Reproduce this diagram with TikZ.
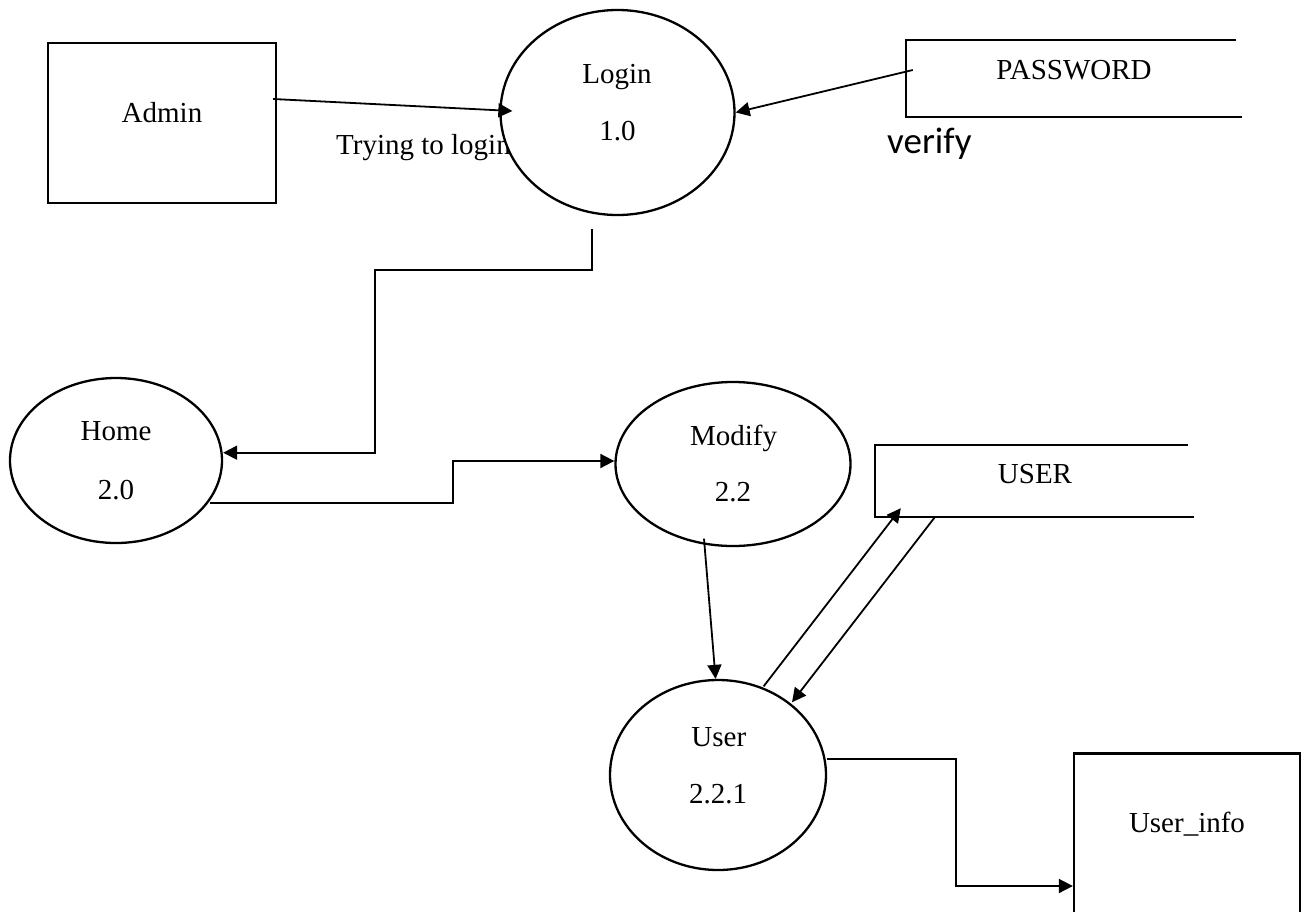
\documentclass[tikz,border=0pt]{standalone}
\usepackage{fontspec}
\setmainfont{Liberation Serif}
\newfontfamily\calibrifont{Carlito}
\usetikzlibrary{shapes.geometric,arrows.meta,calc}

\begin{document}
\begin{tikzpicture}[x=1pt,y=-1pt,
  every node/.style={font=\fontsize{29}{34}\selectfont},
  proc/.style={ellipse, draw, line width=2.3pt, fill=white, inner sep=0pt},
  entity/.style={rectangle, draw, line width=2.3pt, inner sep=0pt},
  storebox/.style={rectangle, inner sep=0pt},
  storeline/.style={line width=2.3pt},
  lbl/.style={anchor=base, inner sep=0pt},
  flow/.style={line width=1.8pt, -{Triangle[length=14pt,width=14pt]}},
  link/.style={line width=1.8pt}]
\clip (0,0) rectangle (1302,911);

% ---------- external entity: Admin ----------
\node[entity, minimum width=228pt, minimum height=160pt] (admin) at (162,123) {};
\node[lbl] (admintxt) at (162,122.7) {Admin};

% flow label, partly hidden behind the Login process
\node[anchor=base west, inner sep=0pt] (trying) at (336,154) {Trying to login};

% ---------- process 1.0 ----------
\node[proc, minimum width=234pt, minimum height=205pt] (login) at (617.5,112.5) {};
\node[lbl] (logintxt) at (617,83.3) {Login};
\node[lbl] (loginnum) at (617.5,140.7) {1.0};

% ---------- data store: PASSWORD ----------
\node[storebox, minimum width=335.5pt, minimum height=77pt] (pwd) at (1074.25,78.5) {};
\draw[storeline] ($(pwd.north east)+(-6,0)$) -- (pwd.north west) -- (pwd.south west) -- (pwd.south east);
\node[lbl] (pwdtxt) at (1074,79) {PASSWORD};
\node[anchor=base west, inner sep=0pt, font=\calibrifont\fontsize{37}{44}\selectfont] (verify) at (887,153.3) {verify};

% ---------- process 2.0 ----------
\node[proc, minimum width=212pt, minimum height=165pt] (home) at (116,460.5) {};
\node[lbl] (hometxt) at (116,440.7) {Home};
\node[lbl] (homenum) at (116,499) {2.0};

% ---------- process 2.2 ----------
\node[proc, minimum width=235pt, minimum height=164pt] (modify) at (733,464) {};
\node[lbl] (modifytxt) at (733.5,445) {Modify};
\node[lbl] (modifynum) at (733,501.2) {2.2};

% ---------- data store: USER ----------
\node[storebox, minimum width=319pt, minimum height=71.5pt] (usr) at (1034.5,481.25) {};
\draw[storeline] ($(usr.north east)+(-6,0)$) -- (usr.north west) -- (usr.south west) -- (usr.south east);
\node[lbl] (usrtxt) at (1035,483.3) {USER};

% ---------- process 2.2.1 ----------
\node[proc, minimum width=216pt, minimum height=190pt] (user) at (718,775) {};
\node[lbl] (usertxt) at (718.8,746.7) {User};
\node[lbl] (usernum) at (718,803.3) {2.2.1};

% ---------- external entity: User_info ----------
\node[entity, minimum width=226pt, minimum height=246.5pt] (info) at (1187,876.75) {};
\node[lbl] (infotxt) at (1187,832) {User\_info};

% ---------- bend points ----------
\coordinate (b1) at (375,270);
\coordinate (b2) at (453,503);
\coordinate (b3) at (956,758.6);

% ---------- data flows ----------
\draw[flow] ($(admin.east)+(-4,-24)$) -- ($(login.west)+(13,-1.5)$);
\draw[flow] ($(pwd.west)+(6.5,-8.5)$) -- (login.east);
\draw[flow] ($(login.south)+(-25.5,13)$) |- (b1) |- ($(home.east)+(0,-7.8)$);
\draw[flow] ($(home.east)+(-13,42.5)$) -- (b2) |- ($(modify.west)+(0,-3)$);
\draw[flow] ($(modify.south)+(-29,-8.5)$) -- ($(user.north)+(-2.4,0)$);
\draw[flow] ($(user.north)+(45.6,7.5)$) -- ($(usr.south west)+(26,-9)$);
\draw[flow] ($(usr.south west)+(60,0)$) -- ($(user.north)+(74,23.4)$);
\draw[flow] ($(user.east)+(0,-16.4)$) -- (b3) |- ($(info.west)+(0,9.25)$);
\end{tikzpicture}
\end{document}
